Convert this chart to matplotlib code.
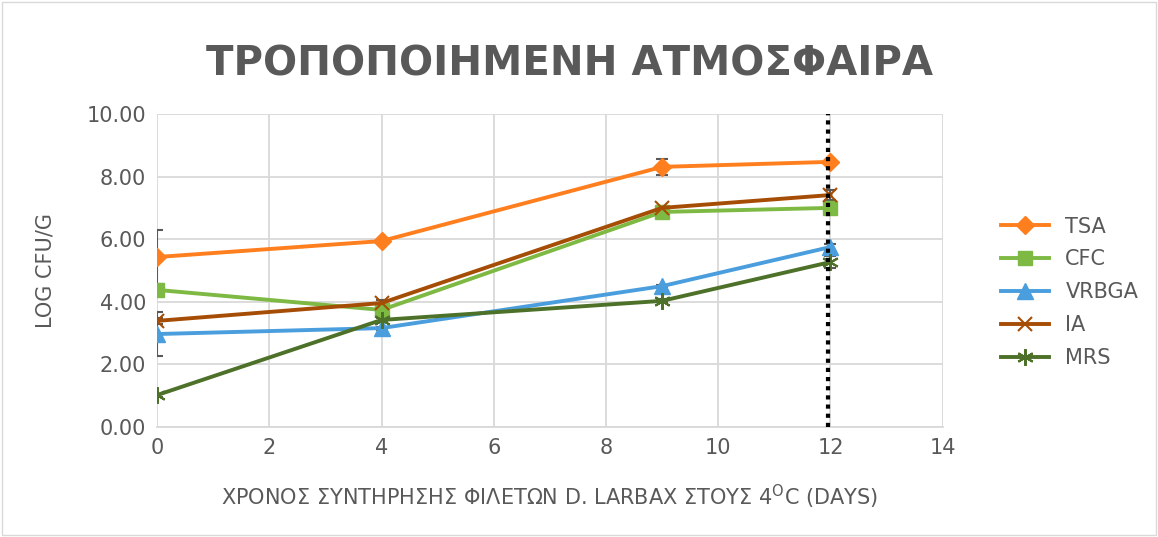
import matplotlib
matplotlib.use("Agg")
from matplotlib import pyplot as plt
from matplotlib.patches import Rectangle

# ημέρες συντήρησης
days = [0, 4, 9, 12]
series_names = ["TSA", "CFC", "VRBGA", "IA", "MRS"]
tsa = [5.43, 5.94, 8.31, 8.47]
cfc = [4.38, 3.74, 6.87, 7.00]
vrbga = [2.97, 3.16, 4.50, 5.75]
ia = [3.39, 3.96, 7.00, 7.41]
mrs = [1.02, 3.42, 4.03, 5.27]
# τυπικές αποκλίσεις (εκτίμηση)
tsa_err = [0.85, 0.05, 0.25, 0.05]
cfc_err = [0.10, 0.10, 0.05, 0.05]
vrbga_err = [0.70, 0.05, 0.05, 0.10]
ia_err = [0.10, 0.10, 0.05, 0.15]
mrs_err = [0.05, 0.05, 0.05, 0.20]
cutoff_day = 11.95

COLORS = ["#FF7F1F", "#7DB943", "#4A9EDD", "#A64D05", "#4E7129"]
MARKERS = ["D", "s", "^", "x", (6, 2, 0)]
SIZES = [9, 10, 11, 10, 12]
GREY = "#595959"

plt.rcParams['font.family'] = ['Verdana', 'DejaVu Sans']
fig = plt.figure(figsize=(11.58, 5.37), dpi=100)
ax = fig.add_axes([0.1356, 0.2048, 0.6785, 0.583])

values = [tsa, cfc, vrbga, ia, mrs]
errors = [tsa_err, cfc_err, vrbga_err, ia_err, mrs_err]
for i, name in enumerate(series_names):
    ax.errorbar(days, values[i], yerr=errors[i], fmt="none", ecolor=GREY,
                elinewidth=1.5, capsize=4, capthick=1.5, zorder=2)
    ax.plot(days, values[i], color=COLORS[i], marker=MARKERS[i],
            markersize=SIZES[i], linewidth=2.8, label=name,
            markeredgewidth=1 if i < 3 else 1.5,
            markeredgecolor=COLORS[i], zorder=3)

ax.axvline(cutoff_day, color="black", linestyle=(0, (1, 1.2)),
           linewidth=3, zorder=4)

ax.set_xlim(0, 14)
ax.set_ylim(0, 10)
ax.set_xticks(range(0, 15, 2))
ax.set_yticks([0, 2, 4, 6, 8, 10])
ax.set_yticklabels([f"{v:.2f}" for v in [0, 2, 4, 6, 8, 10]])
ax.grid(True, color="#D9D9D9", linewidth=1.3)
ax.set_axisbelow(True)
for s in ["top", "right", "left"]:
    ax.spines[s].set_visible(False)
ax.spines["bottom"].set_color("#D9D9D9")
ax.spines["bottom"].set_linewidth(1.3)
ax.tick_params(length=0, labelsize=15, colors=GREY, pad=8)

ax.set_ylabel("LOG CFU/G", fontsize=15, color=GREY, labelpad=22)
ax.set_xlabel(r"ΧΡΟΝΟΣ ΣΥΝΤΗΡΗΣΗΣ ΦΙΛΕΤΩΝ D. LARBAX ΣΤΟΥΣ 4$^{\mathrm{O}}$C (DAYS)",
              fontsize=15, color=GREY, labelpad=18)

fig.text(0.492, 0.879, "ΤΡΟΠΟΠΟΙΗΜΕΝΗ ΑΤΜΟΣΦΑΙΡΑ",
         ha="center", va="center", fontsize=29, fontweight="bold", color=GREY)

leg = ax.legend(loc="center left", bbox_to_anchor=(1.05, 0.43), frameon=False,
                fontsize=15, labelcolor=GREY, handlelength=2.3,
                labelspacing=0.62)

fig.patches.append(Rectangle((0.002, 0.004), 0.996, 0.992, transform=fig.transFigure,
                             fill=False, edgecolor="#D9D9D9", linewidth=1))

fig.savefig("out.png", dpi=100)
